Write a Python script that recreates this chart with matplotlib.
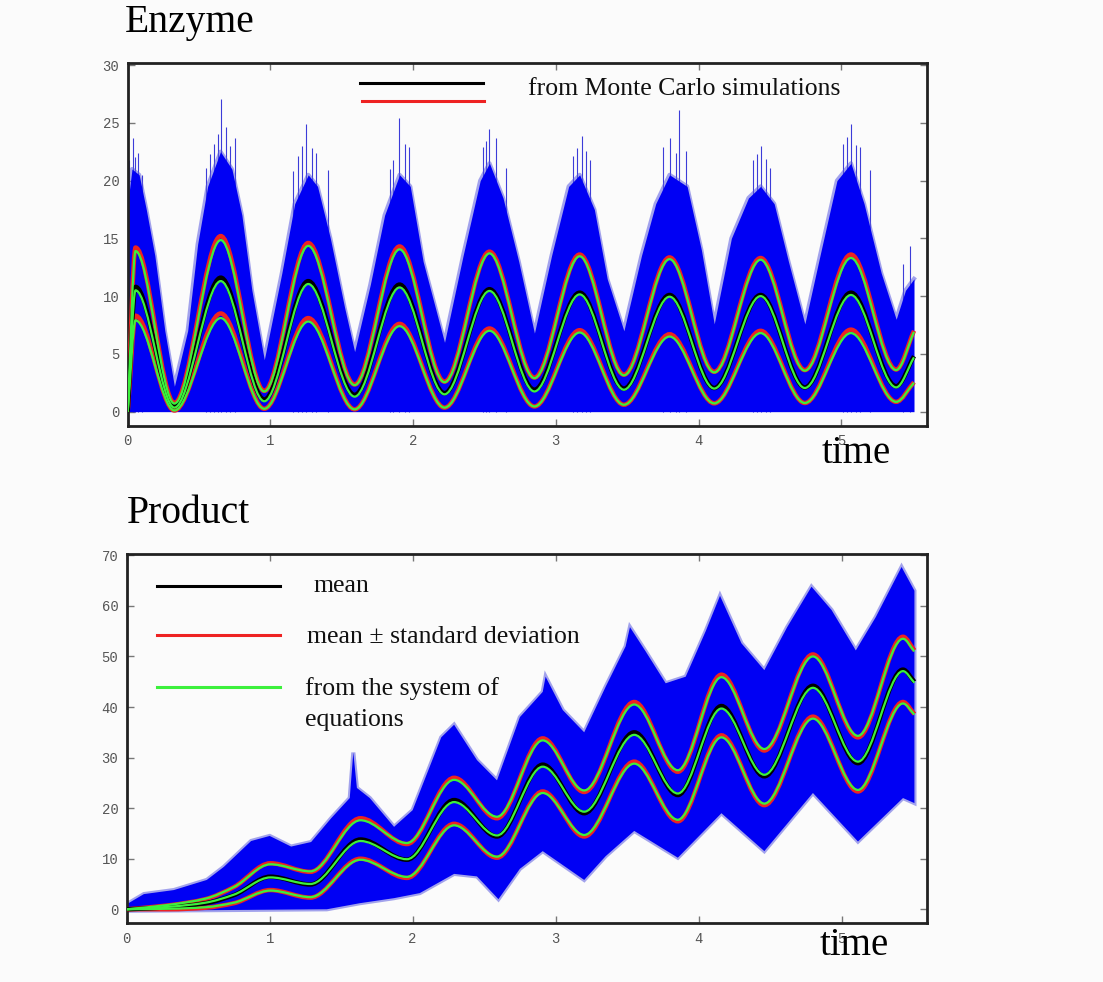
import numpy as np
import matplotlib
matplotlib.use("Agg")
import matplotlib.pyplot as plt
from matplotlib.path import Path
from matplotlib.patches import PathPatch

# ---- Enzyme panel: values read at the extrema of the curves ----
enz_t = [0.0, 0.055, 0.327, 0.652, 0.957, 1.265, 1.59, 1.905, 2.22, 2.535,
         2.85, 3.167, 3.477, 3.797, 4.11, 4.435, 4.745, 5.068, 5.385, 5.51]
enz_mc_mean = [0.0, 10.8, 0.45, 11.6, 1.05, 11.3, 1.45, 11.0, 1.6, 10.6,
               1.9, 10.3, 2.0, 10.1, 2.05, 10.1, 2.1, 10.3, 2.2, 4.8]
enz_mc_upper = [0.0, 14.2, 0.75, 15.2, 1.8, 14.6, 2.35, 14.3, 2.6, 13.85,
                2.95, 13.6, 3.2, 13.35, 3.45, 13.3, 3.6, 13.6, 3.65, 7.0]
enz_mc_lower = [0.0, 8.3, 0.1, 8.5, 0.25, 8.1, 0.2, 7.6, 0.35, 7.2,
                0.45, 7.05, 0.6, 6.7, 0.72, 7.0, 0.75, 7.1, 0.85, 2.55]
enz_eq_mean = [0.0, 10.5, 0.35, 11.3, 0.9, 11.05, 1.3, 10.75, 1.5, 10.45,
               1.75, 10.15, 1.9, 9.95, 2.0, 10.0, 2.05, 10.1, 2.1, 4.7]
enz_eq_upper = [0.0, 13.9, 0.7, 14.85, 1.75, 14.35, 2.3, 14.05, 2.55, 13.7,
                2.9, 13.45, 3.15, 13.2, 3.4, 13.15, 3.55, 13.3, 3.6, 6.9]
enz_eq_lower = [0.0, 7.9, 0.1, 8.1, 0.25, 7.8, 0.2, 7.4, 0.35, 7.0,
                0.45, 6.85, 0.6, 6.5, 0.72, 6.8, 0.75, 6.8, 0.85, 2.5]

# upper edge of the cloud of Monte Carlo runs (lower edge sits on 0)
enz_env_t = [0.0, 0.03, 0.08, 0.13, 0.19, 0.26, 0.327, 0.42, 0.49, 0.56, 0.65,
             0.73, 0.8, 0.87, 0.957, 1.08, 1.17, 1.265, 1.33, 1.42, 1.52, 1.59,
             1.7, 1.8, 1.905, 1.98, 2.07, 2.22, 2.35, 2.47, 2.535, 2.63, 2.74,
             2.85, 2.97, 3.09, 3.167, 3.27, 3.36, 3.477, 3.6, 3.7, 3.797, 3.92,
             4.02, 4.11, 4.23, 4.35, 4.435, 4.53, 4.63, 4.745, 4.86, 4.97,
             5.068, 5.16, 5.28, 5.385, 5.45, 5.51]
enz_env_hi = [18.0, 21.0, 20.5, 17.5, 13.5, 7.0, 2.2, 7.0, 14.5, 19.5, 22.5,
              21.0, 17.0, 10.5, 4.5, 12.0, 18.0, 20.5, 19.5, 15.0, 9.0, 5.2,
              11.0, 17.0, 20.5, 19.5, 13.0, 6.0, 13.5, 20.0, 21.5, 18.5, 13.0,
              6.8, 13.5, 19.5, 20.5, 17.5, 11.5, 7.0, 13.5, 18.0, 20.5, 19.5,
              14.0, 7.6, 15.0, 18.5, 19.5, 18.0, 13.0, 7.6, 14.0, 20.0,
              21.5, 18.0, 12.0, 8.0, 10.5, 11.5]
enz_floor = 0.0
enz_spike_t = [0.012, 0.036, 0.05, 0.07, 0.10, 0.55, 0.58, 0.607, 0.63, 0.654,
               0.69, 0.72, 0.75, 1.16, 1.19, 1.22, 1.25, 1.29, 1.32, 1.40,
               1.84, 1.86, 1.904, 1.94, 1.97, 2.49, 2.51, 2.535, 2.58, 2.65,
               3.12, 3.15, 3.18, 3.21, 3.24, 3.75, 3.80, 3.84, 3.866, 3.91,
               4.38, 4.41, 4.44, 4.47, 4.50, 5.01, 5.04, 5.07, 5.10, 5.13,
               5.20, 5.43, 5.48]
enz_spike_top = [21.8, 23.7, 22.0, 22.4, 20.5, 21.1, 22.3, 23.2, 24.0, 27.1,
                 24.6, 23.0, 23.7, 20.8, 22.1, 23.0, 24.9, 22.8, 22.4, 20.9,
                 21.0, 21.8, 25.4, 23.2, 22.9, 22.9, 23.4, 24.5, 23.7, 21.1,
                 22.1, 22.8, 23.9, 22.6, 21.8, 22.9, 23.7, 22.4, 26.1, 22.6,
                 21.8, 22.3, 23.0, 21.9, 21.1, 23.2, 23.8, 24.9, 23.1, 22.9,
                 20.9, 12.8, 14.3]

# ---- Product panel ----
prod_t = [0.0, 0.3, 0.55, 0.75, 1.005, 1.285, 1.635, 1.96, 2.29, 2.59,
          2.91, 3.2, 3.55, 3.855, 4.16, 4.46, 4.80, 5.115, 5.43, 5.51]
prod_mc_mean = [0.0, 0.4, 1.2, 2.8, 6.45, 4.9, 13.8, 9.8, 21.6, 14.4,
                28.6, 19.0, 35.0, 22.6, 40.2, 26.3, 44.2, 28.9, 47.4, 45.0]
prod_mc_upper = [0.0, 0.8, 2.0, 4.4, 9.1, 7.4, 18.0, 12.9, 26.0, 18.0,
                 33.8, 23.2, 41.0, 27.2, 46.4, 31.4, 50.4, 34.0, 53.9, 51.2]
prod_mc_lower = [0.0, 0.0, 0.3, 1.2, 3.8, 2.3, 10.0, 6.2, 16.9, 10.2,
                 23.3, 14.4, 29.2, 17.4, 34.4, 20.6, 38.1, 23.3, 41.0, 38.6]
prod_eq_mean = [0.0, 0.5, 1.3, 2.9, 6.3, 5.0, 13.5, 9.9, 21.2, 14.6,
                28.2, 19.3, 34.5, 22.9, 39.7, 26.6, 43.8, 29.2, 47.1, 44.8]
prod_eq_upper = [0.0, 0.9, 2.1, 4.4, 8.9, 7.5, 17.6, 13.1, 25.6, 18.3,
                 33.4, 23.5, 40.5, 27.5, 45.9, 31.7, 50.0, 34.3, 53.5, 51.0]
prod_eq_lower = [0.0, 0.1, 0.4, 1.3, 3.7, 2.4, 9.8, 6.4, 16.6, 10.4,
                 23.0, 14.7, 28.8, 17.7, 34.0, 20.9, 37.7, 23.6, 40.7, 38.5]

prod_env_hi_t = [0.0, 0.12, 0.33, 0.56, 0.68, 0.87, 1.0, 1.15, 1.29, 1.43,
                 1.56, 1.585, 1.61, 1.7, 1.87, 2.0, 2.2, 2.29, 2.45, 2.59,
                 2.75, 2.91, 2.93, 3.05, 3.2, 3.35, 3.49, 3.52, 3.63, 3.77,
                 3.91, 4.05, 4.15, 4.3, 4.46, 4.62, 4.79, 4.93, 5.1, 5.24,
                 5.42, 5.51]
prod_env_hi = [1.0, 3.0, 3.8, 5.8, 8.4, 13.5, 14.5, 12.4, 13.3, 18.0,
               22.0, 31.0, 24.0, 22.0, 16.3, 19.6, 34.0, 36.5, 29.5, 25.5,
               38.0, 43.0, 46.0, 39.4, 35.0, 44.0, 52.0, 55.8, 51.0, 44.7,
               46.0, 55.0, 62.0, 52.6, 47.3, 55.8, 63.8, 59.2, 51.2, 57.8,
               67.7, 63.0]
prod_env_lo_t = [0.0, 1.4, 1.63, 1.87, 2.05, 2.29, 2.45, 2.6, 2.75, 2.91,
                 3.2, 3.35, 3.55, 3.855, 4.16, 4.46, 4.80, 5.115, 5.43, 5.51]
prod_env_lo = [-0.3, 0.0, 1.2, 2.2, 3.2, 7.0, 6.5, 2.0, 8.0, 11.5,
               5.8, 10.5, 15.5, 10.2, 19.0, 11.5, 23.0, 13.4, 22.0, 21.0]

xticks = [0, 1, 2, 3, 4, 5]
enz_yticks = [0, 5, 10, 15, 20, 25, 30]
prod_yticks = [0, 10, 20, 30, 40, 50, 60, 70]

BLUE = "#0000f4"
EDGE = "#5a5ae0"
RED = "#ee2222"
GREEN = "#3cf03c"
SERIF = "Liberation Serif"


def smooth_curve(ax, x, y, **kw):
    # monotone cubic through the read points, drawn as a bezier path
    x = np.asarray(x, float)
    y = np.asarray(y, float)
    h = np.diff(x)
    d = np.diff(y) / h
    m = np.zeros_like(y)
    m[0], m[-1] = d[0], d[-1]
    for i in range(1, len(x) - 1):
        if d[i - 1] * d[i] > 0:
            w1 = 2 * h[i] + h[i - 1]
            w2 = h[i] + 2 * h[i - 1]
            m[i] = (w1 + w2) / (w1 / d[i - 1] + w2 / d[i])
    verts = [(x[0], y[0])]
    codes = [Path.MOVETO]
    for i in range(len(x) - 1):
        verts += [(x[i] + h[i] / 3, y[i] + m[i] * h[i] / 3),
                  (x[i + 1] - h[i] / 3, y[i + 1] - m[i + 1] * h[i] / 3),
                  (x[i + 1], y[i + 1])]
        codes += [Path.CURVE4] * 3
    ax.add_patch(PathPatch(Path(verts, codes), fill=False, **kw))


def style(ax, ylim, yticks):
    ax.set_facecolor("#fbfbfb")
    ax.set_xlim(0, 5.6)
    ax.set_ylim(*ylim)
    ax.set_xticks(xticks)
    ax.set_yticks(yticks)
    ax.tick_params(direction="in", length=5, width=1, color="#777777",
                   top=True, right=True, labelcolor="#555555", labelsize=10, pad=6)
    for lab in ax.get_xticklabels() + ax.get_yticklabels():
        lab.set_family("Liberation Mono")
    for sp in ax.spines.values():
        sp.set_linewidth(2.0)
        sp.set_color("#222222")


def draw_curves(ax, t, mc, eq):
    for arr in (mc[1], mc[2]):
        smooth_curve(ax, t, arr, edgecolor=RED, lw=3.2, zorder=4)
    smooth_curve(ax, t, mc[0], edgecolor="black", lw=3.2, zorder=5)
    for arr in eq:
        smooth_curve(ax, t, arr, edgecolor=GREEN, lw=1.6, zorder=6)


fig = plt.figure(figsize=(11.03, 9.82), dpi=100, facecolor="#fbfbfb")

# Enzyme
ax1 = fig.add_axes([0.1158, 0.5662, 0.7245, 0.3693])
style(ax1, (-1.24, 30.15), enz_yticks)
ax1.vlines(enz_spike_t, enz_floor, enz_spike_top, color="#3c3cd8", lw=0.8, zorder=2)
ax1.plot(enz_env_t, enz_env_hi, color=EDGE, lw=3.0, alpha=0.55, zorder=2)
ax1.fill_between(enz_env_t, enz_floor, enz_env_hi, color=BLUE, lw=0, zorder=2)
draw_curves(ax1, enz_t, (enz_mc_mean, enz_mc_upper, enz_mc_lower),
            (enz_eq_mean, enz_eq_upper, enz_eq_lower))
ax1.plot([0.2908, 0.4448], [0.9457, 0.9457], color="black", lw=2.2, transform=ax1.transAxes)
ax1.plot([0.2933, 0.4460], [0.896, 0.896], color=RED, lw=2.2, transform=ax1.transAxes)
ax1.text(0.501, 0.9126, "from Monte Carlo simulations", transform=ax1.transAxes,
         family=SERIF, fontsize=18.5, va="baseline", color="#111111")

# Product
ax2 = fig.add_axes([0.1149, 0.0598, 0.7258, 0.3757])
style(ax2, (-2.77, 70.2), prod_yticks)
poly_t = np.concatenate([prod_env_hi_t, prod_env_lo_t[::-1]])
poly_y = np.concatenate([prod_env_hi, prod_env_lo[::-1]])
ax2.fill(poly_t, poly_y, facecolor="none", edgecolor=EDGE, lw=3.0, alpha=0.55, zorder=2)
ax2.fill(poly_t, poly_y, facecolor=BLUE, edgecolor="none", zorder=2)
draw_curves(ax2, prod_t, (prod_mc_mean, prod_mc_upper, prod_mc_lower),
            (prod_eq_mean, prod_eq_upper, prod_eq_lower))
ax2.plot([0.0375, 0.1915], [0.914, 0.914], color="black", lw=2.2, transform=ax2.transAxes)
ax2.plot([0.0375, 0.1915], [0.781, 0.781], color=RED, lw=2.2, transform=ax2.transAxes)
ax2.plot([0.0375, 0.1915], [0.641, 0.641], color=GREEN, lw=2.2, transform=ax2.transAxes)
ax2.text(0.233, 0.8987, "mean", transform=ax2.transAxes, family=SERIF,
         fontsize=18.5, va="baseline", color="#111111")
ax2.text(0.2256, 0.7604, "mean \u00b1 standard deviation", transform=ax2.transAxes,
         family=SERIF, fontsize=18.5, va="baseline", color="#111111")
ax2.text(0.2227, 0.6187, "from the system of", transform=ax2.transAxes, family=SERIF,
         fontsize=18.5, va="baseline", color="#111111")
ax2.text(0.2227, 0.5355, "equations", transform=ax2.transAxes, family=SERIF,
         fontsize=18.5, va="baseline", color="#111111")

fig.text(0.1133, 0.9674, "Enzyme", family=SERIF, fontsize=28.5, va="baseline")
fig.text(0.1151, 0.4671, "Product", family=SERIF, fontsize=28.5, va="baseline")
fig.text(0.7452, 0.5285, "time", family=SERIF, fontsize=28, va="baseline", zorder=10)
fig.text(0.7434, 0.0275, "time", family=SERIF, fontsize=28, va="baseline", zorder=10)

fig.savefig("out.png", dpi=100, facecolor=fig.get_facecolor())
